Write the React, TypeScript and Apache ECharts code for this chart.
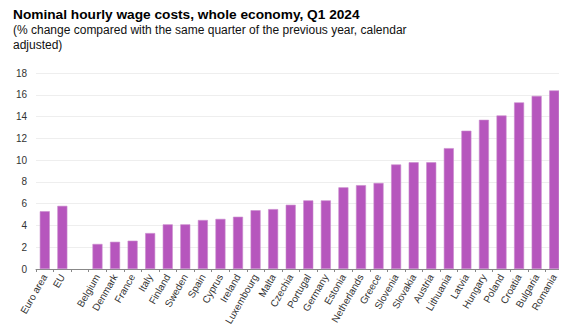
import React, { useEffect, useRef } from "react";
import * as echarts from "echarts";

const categories = [
  "Euro area", "EU", "", "Belgium", "Denmark", "France", "Italy", "Finland", "Sweden",
  "Spain", "Cyprus", "Ireland", "Luxembourg", "Malta", "Czechia", "Portugal", "Germany",
  "Estonia", "Netherlands", "Greece", "Slovenia", "Slovakia", "Austria", "Lithuania",
  "Latvia", "Hungary", "Poland", "Croatia", "Bulgaria", "Romania",
];
const values: (number | null)[] = [
  5.3, 5.8, null, 2.3, 2.5, 2.6, 3.3, 4.1, 4.1,
  4.5, 4.6, 4.8, 5.4, 5.5, 5.9, 6.3, 6.3,
  7.5, 7.7, 7.9, 9.6, 9.8, 9.8, 11.1,
  12.7, 13.7, 14.1, 15.3, 15.9, 16.4,
];
const yTicks = [0, 2, 4, 6, 8, 10, 12, 14, 16, 18];

const titleText = "Nominal hourly wage costs, whole economy, Q1 2024";
const subtitleText = "(% change compared with the same quarter of the previous year, calendar\nadjusted)";

export default function App() {
  const ref = useRef<HTMLDivElement>(null);
  useEffect(() => {
    if (!ref.current) return;
    const chart = echarts.init(ref.current, null, { renderer: "svg" });
    const font = "Arial, 'Liberation Sans', sans-serif";
    chart.setOption({
      animation: false,
      title: {
        text: titleText,
        subtext: subtitleText,
        left: 8,
        top: 2,
        itemGap: 1,
        textStyle: { fontFamily: font, fontSize: 13.7, fontWeight: "bold", color: "#000" },
        subtextStyle: { fontFamily: font, fontSize: 12, color: "#111", lineHeight: 15 },
      },
      grid: { left: 36, right: 4, top: 73, bottom: 64, containLabel: false },
      xAxis: {
        type: "category",
        data: categories,
        boundaryGap: true,
        axisLine: { lineStyle: { color: "#888", width: 1 } },
        axisTick: { show: true, alignWithLabel: false, length: 3, lineStyle: { color: "#888" } },
        axisLabel: {
          interval: 0,
          rotate: 60,
          fontFamily: font,
          fontSize: 10,
          color: "#333",
          margin: 6,
        },
      },
      yAxis: {
        type: "value",
        min: yTicks[0],
        max: yTicks[yTicks.length - 1],
        interval: 2,
        axisLine: { show: false },
        axisTick: { show: false },
        splitLine: { lineStyle: { color: "#eeeeee", width: 1 } },
        axisLabel: { fontFamily: font, fontSize: 10, color: "#333", margin: 9 },
      },
      series: [
        {
          type: "bar",
          data: values,
          barCategoryGap: "43%",
          itemStyle: { color: "#b656bd", borderColor: "#c98ccd", borderWidth: 0.6 },
        },
      ],
    });
    return () => chart.dispose();
  }, []);
  return <div ref={ref} style={{ width: 567, height: 333, margin: -8 }} />;
}
